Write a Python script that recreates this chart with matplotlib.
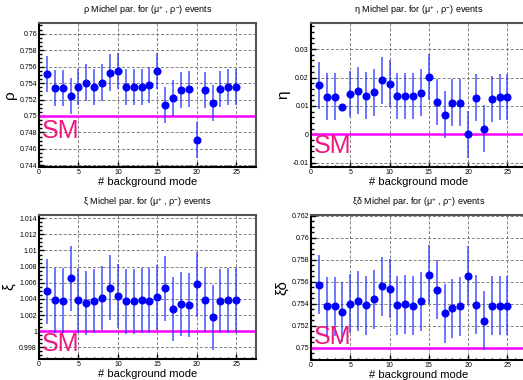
import numpy as np
import matplotlib
matplotlib.use('Agg')
import matplotlib.pyplot as plt
from matplotlib.ticker import MultipleLocator, AutoMinorLocator, FuncFormatter

plt.rcParams['font.family'] = ['Liberation Sans', 'DejaVu Sans']
plt.rcParams['mathtext.fontset'] = 'custom'
plt.rcParams['mathtext.rm'] = 'Liberation Sans'

modes = np.arange(1, 26)

rho = [0.75507, 0.75336, 0.75336, 0.75243, 0.75357, 0.75406, 0.75349, 0.75406,
       0.75528, 0.75548, 0.75349, 0.75353, 0.75350, 0.75377, 0.75548, 0.75137,
       0.75218, 0.75316, 0.75324, 0.74709, 0.75316, 0.75157, 0.75324, 0.75357,
       0.75357]
rho_err = [0.0022] * 25

eta = [0.01728, 0.0133, 0.0133, 0.0098, 0.01424, 0.0154, 0.01366, 0.01482,
       0.01903, 0.01786, 0.01354, 0.01354, 0.01354, 0.0147, 0.0202, 0.01132,
       0.00689, 0.0112, 0.0112, 0.0, 0.01296, 0.0020, 0.01249, 0.01319, 0.01319]
eta_err = [0.0082] * 25
eta_err[3] = 0.0004

xi = [1.00493, 1.00381, 1.00377, 1.00655, 1.00381, 1.00348, 1.00373, 1.00414,
      1.00539, 1.00435, 1.00369, 1.00369, 1.00381, 1.00377, 1.00418, 1.00530,
      1.00273, 1.00336, 1.00327, 1.00580, 1.00385, 1.00170, 1.00373, 1.00381,
      1.00381]
xi_err = [0.0040] * 25

xidelta = [0.75573, 0.75376, 0.75376, 0.75324, 0.75400, 0.75424, 0.75385, 0.75439,
           0.75558, 0.75536, 0.75385, 0.75394, 0.75382, 0.75421, 0.75664, 0.75527,
           0.75312, 0.75358, 0.75376, 0.75655, 0.75391, 0.75245, 0.75382, 0.75382,
           0.75382]
xidelta_err = [0.0027] * 25

panels = [
    dict(vals=rho, err=rho_err, sm=0.75, name='ρ', ylim=(0.7438, 0.7613), step=0.002, minor=4,
         sm_y=0.7473, pos=[39, 23, 217, 144]),
    dict(vals=eta, err=eta_err, sm=0.0, name='η', ylim=(-0.0115, 0.0392), step=0.01, minor=5,
         sm_y=-0.0065, pos=[311, 23, 216, 144]),
    dict(vals=xi, err=xi_err, sm=1.0, name='ξ', ylim=(0.99655, 1.0144), step=0.002, minor=4,
         sm_y=0.9975, pos=[39, 215, 217, 144]),
    dict(vals=xidelta, err=xidelta_err, sm=0.75, name='ξδ', ylim=(0.74888, 0.76206), step=0.002, minor=4,
         sm_y=0.75033, pos=[311, 215, 216, 145]),
]

W, H = 523, 380
fig = plt.figure(figsize=(W / 100, H / 100), dpi=100)


def fmt(v, p):
    return '%g' % round(v, 6)


for p in panels:
    x0, y0, w, h = p['pos']
    ax = fig.add_axes([x0 / W, (H - y0 - h) / H, w / W, h / H])
    ax.errorbar(modes, p['vals'], yerr=p['err'], fmt='none', ecolor='#1a2cff',
                elinewidth=1.2, alpha=0.75, zorder=3)
    ax.plot(modes, p['vals'], 'o', color='#0000ff', markersize=4.8, zorder=4)
    ax.axhline(p['sm'], color='#ff00ff', lw=1.8, zorder=2)
    ax.text(0.4, p['sm_y'], 'SM', color='#f0177f', fontsize=18, va='baseline', zorder=5)

    ax.set_xlim(0, 27.5)
    ax.set_ylim(*p['ylim'])
    ax.xaxis.set_major_locator(MultipleLocator(5))
    ax.xaxis.set_minor_locator(MultipleLocator(1))
    ax.yaxis.set_major_locator(MultipleLocator(p['step']))
    ax.yaxis.set_minor_locator(AutoMinorLocator(p['minor']))
    ax.yaxis.set_major_formatter(FuncFormatter(fmt))
    ax.tick_params(which='both', direction='in', labelsize=5, pad=1.5, width=1)
    ax.tick_params(which='major', length=3.5)
    ax.tick_params(which='minor', length=1.8)
    ax.grid(True, which='major', color='#808080', ls=(0, (3, 2)), lw=0.7)
    for s in ['left', 'bottom']:
        ax.spines[s].set_linewidth(1.5)
        ax.spines[s].set_color('black')
    for s in ['top', 'right']:
        ax.spines[s].set_linewidth(1.5)
        ax.spines[s].set_color('#555555')

    ax.set_xlabel('# background mode', fontsize=8, labelpad=1)
    ax.set_ylabel(p['name'], fontsize=11, labelpad=2)
    ax.set_title(p['name'] + ' Michel par. for (μ$^{+}$ , ρ$^{-}$) events', fontsize=6.5, pad=7)

fig.savefig('out.png', dpi=100)
